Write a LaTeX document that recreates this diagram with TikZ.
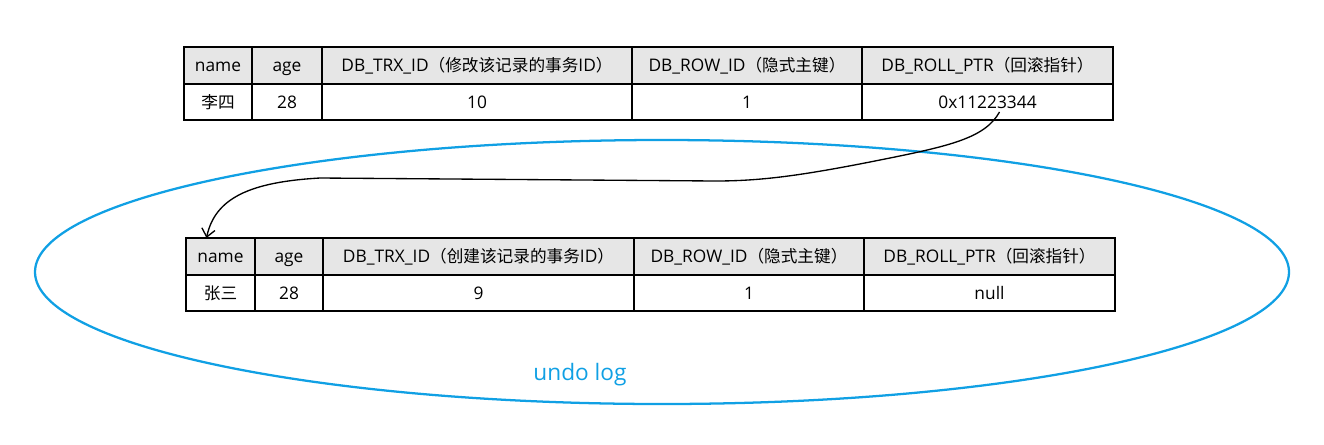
\documentclass[tikz,border=0pt]{standalone}
\usepackage{fontspec}
\setmainfont{Open Sans}
\newfontfamily\cjk{Noto Sans CJK SC}[Scale=0.96]
\usetikzlibrary{positioning,calc,arrows.meta}
\definecolor{headgray}{HTML}{E6E6E6}
\definecolor{undoblue}{HTML}{10A0E4}
\tikzset{
  hd/.style={draw, line width=1.2pt, fill=headgray, minimum height=27.75pt, inner sep=0pt, outer sep=0pt, text height=11.5pt, text depth=2pt, font=\fontsize{13}{15}\selectfont},
  val/.style={draw, line width=1.2pt, minimum height=27pt, inner sep=0pt, outer sep=0pt, text height=11.5pt, text depth=2pt, font=\fontsize{13}{15}\selectfont},
}
\begin{document}
\begin{tikzpicture}[x=0.75pt,y=-0.75pt]
  \useasboundingbox (0,0) rectangle (1324,444);
  % current record
  \node[hd, minimum width=51pt, anchor=north west] (h1name) at (184,47) {name};
  \node[hd, minimum width=52.5pt, right=0pt of h1name] (h1age) {age};
  \node[hd, minimum width=232.5pt, right=0pt of h1age] (h1trx) {DB\_TRX\_ID{\cjk（修改该记录的事务}ID{\cjk）}};
  \node[hd, minimum width=172.5pt, right=0pt of h1trx] (h1row) {DB\_ROW\_ID{\cjk（隐式主键）}};
  \node[hd, minimum width=188.25pt, right=0pt of h1row] (h1roll) {DB\_ROLL\_PTR{\cjk（回滚指针）}};
  \node[val, minimum width=51pt, below=0pt of h1name] (v1name) {\cjk 李四};
  \node[val, minimum width=52.5pt, below=0pt of h1age] (v1age) {28};
  \node[val, minimum width=232.5pt, below=0pt of h1trx] (v1trx) {10};
  \node[val, minimum width=172.5pt, below=0pt of h1row] (v1row) {1};
  \node[val, minimum width=188.25pt, below=0pt of h1roll] (v1roll) {0x11223344};

  % undo log record
  \node[hd, minimum width=51.75pt, anchor=north west] (h2name) at (186,238) {name};
  \node[hd, minimum width=51pt, right=0pt of h2name] (h2age) {age};
  \node[hd, minimum width=233.25pt, right=0pt of h2age] (h2trx) {DB\_TRX\_ID{\cjk（创建该记录的事务}ID{\cjk）}};
  \node[hd, minimum width=172.5pt, right=0pt of h2trx] (h2row) {DB\_ROW\_ID{\cjk（隐式主键）}};
  \node[hd, minimum width=188.25pt, right=0pt of h2row] (h2roll) {DB\_ROLL\_PTR{\cjk（回滚指针）}};
  \node[val, minimum width=51.75pt, below=0pt of h2name] (v2name) {\cjk 张三};
  \node[val, minimum width=51pt, below=0pt of h2age] (v2age) {28};
  \node[val, minimum width=233.25pt, below=0pt of h2trx] (v2trx) {9};
  \node[val, minimum width=172.5pt, below=0pt of h2row] (v2row) {1};
  \node[val, minimum width=188.25pt, below=0pt of h2roll] (v2roll) {null};

  \draw[undoblue, line width=1.7pt] (662,272) ellipse [x radius=627, y radius=132];
  \node[text=undoblue, font=\fontsize{17}{19}\selectfont] (undo) at (580,375) {undo log};

  \coordinate (ptr) at ($(v1roll.south)+(12,-8)$);
  \draw[line width=1pt, -{Straight Barb[length=6pt,width=10pt]}] (ptr)
    .. controls (985,138) and (950,146) .. (880,160)
    .. controls (800,176) and (760,181) .. (715,181)
    -- (320,178)
    .. controls (250,182) and (215,198) .. ($(h2name.north)+(-14,0)$);
\end{tikzpicture}
\end{document}
